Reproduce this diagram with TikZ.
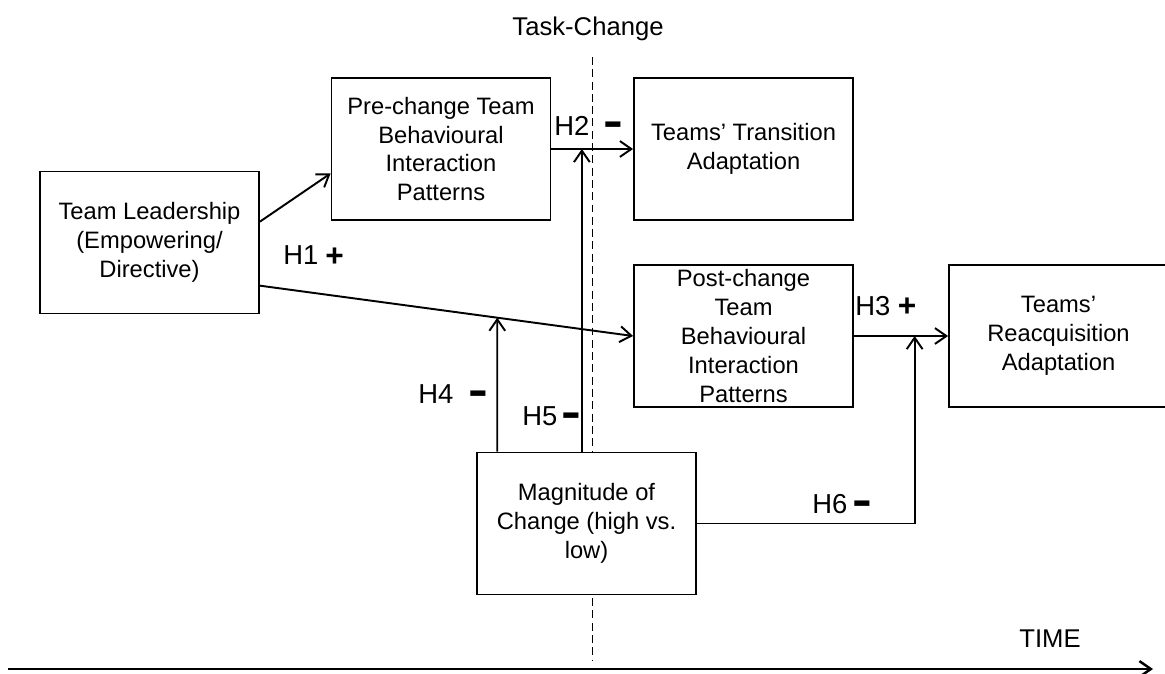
\documentclass[tikz,border=0pt]{standalone}
\usepackage{fontspec}
\setmainfont{Liberation Sans}
\usetikzlibrary{arrows.meta,calc}
\newcommand{\negsign}{\scalebox{1.3}[1]{-}}
\begin{document}
\begin{tikzpicture}[x=0.02cm,y=-0.02cm,
  box/.style={draw, fill=white, line width=1.1pt, minimum width=4.38cm,
    minimum height=2.84cm, inner sep=0pt, align=center,
    font=\fontsize{13.5}{16.4}\selectfont},
  link/.style={line width=1.1pt,
    -{Straight Barb[length=6.5pt,width=9pt]}},
  lbl/.style={inner sep=0pt, anchor=base west, font=\fontsize{15.6}{18}\selectfont},
  possign/.style={inner sep=0pt, anchor=base, font=\fontsize{18}{20}\selectfont\bfseries},
  negsign/.style={inner sep=0pt, anchor=base, font=\fontsize{26}{28}\selectfont\bfseries},
  title/.style={inner sep=0pt, anchor=base, font=\fontsize{14.6}{17}\selectfont},
  boundary/.style={line width=0.9pt, dash pattern=on 4.5pt off 2.5pt}
]
\useasboundingbox (0,0) rectangle (1165,673);

% task-change boundary and time axis
\coordinate (tctop) at (592.5,57);
\coordinate (tcbot) at (592.5,660);
\draw[boundary] (tctop) -- (tcbot);
\node[title] (tclbl) at (588,35) {Task-Change};

\coordinate (t0) at (8,669);
\coordinate (t1) at (1153,669);
\draw[line width=1.4pt, -{Straight Barb[length=6.5pt,width=9pt]}] (t0) -- (t1);
\node[title] (timelbl) at (1050,647) {TIME};

% constructs
\node[box] (lead)  at (149.5,242.5) {Team Leadership\\(Empowering/\\Directive)};
\node[box] (pre)   at (441,149)     {Pre-change Team\\Behavioural\\Interaction\\Patterns};
\node[box] (trans) at (743.5,149)   {Teams’ Transition\\Adaptation};
\node[box] (post)  at (743.5,336)   {Post-change\\Team\\Behavioural\\Interaction\\Patterns};
\node[box] (reacq) at (1058.5,336)  {Teams’\\Reacquisition\\Adaptation};
\node[box] (mag)   at (586.5,523.5) {Magnitude of\\Change (high vs.\\low)};

% direct paths
\coordinate (leadA) at ($(lead.north east)!0.355!(lead.south east)$);
\coordinate (preA)  at ($(pre.north west)!0.67!(pre.south west)$);
\draw[link] (leadA) -- (preA);

\coordinate (leadB) at ($(lead.north east)!0.80!(lead.south east)$);
\coordinate (postW) at (post.west);
\draw[link] (leadB) -- (postW);

\draw[link] (pre.east) -- (trans.west);
\draw[link] (post.east) -- (reacq.west);

% moderation paths from magnitude of change
\coordinate (magA) at ($(mag.north west)!0.096!(mag.north east)$);
\coordinate (magB) at ($(mag.north west)!0.479!(mag.north east)$);
\coordinate (h5top) at (magB |- pre.east);
\draw[link] (magB) -- (h5top);

\coordinate (h4up) at (magA |- pre.east);
\coordinate (h4top) at (intersection of leadB--postW and magA--h4up);
\draw[link] (magA) -- (h4top);

\coordinate (h6top) at ($(post.east)!0.645!(reacq.west)$);
\draw[link] (mag.east) -| (h6top);

% hypothesis labels
\node[lbl]     (h1lbl) at (283,264) {H1};
\node[possign] (h1sgn) at (334.5,266) {+};
\node[lbl]     (h2lbl) at (554,135) {H2};
\node[negsign] (h2sgn) at (613,136) {\negsign};
\node[lbl]     (h3lbl) at (855,315) {H3};
\node[possign] (h3sgn) at (907,316) {+};
\node[lbl]     (h4lbl) at (418,403) {H4};
\node[negsign] (h4sgn) at (478,405.5) {\negsign};
\node[lbl]     (h5lbl) at (522,425) {H5};
\node[negsign] (h5sgn) at (571,427) {\negsign};
\node[lbl]     (h6lbl) at (812,513) {H6};
\node[negsign] (h6sgn) at (862,515) {\negsign};
\end{tikzpicture}
\end{document}
